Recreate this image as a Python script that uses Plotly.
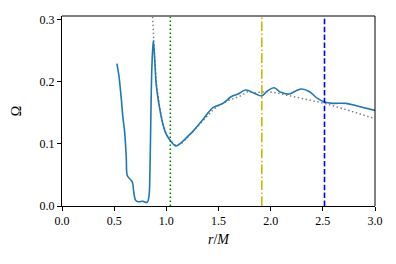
import plotly.graph_objects as go

# Simulated angular velocity profile (blue)
r_sim = [0.526, 0.545, 0.568, 0.584, 0.600, 0.616, 0.626, 0.648, 0.674, 0.686, 0.705, 0.728,
         0.776, 0.817, 0.833, 0.843, 0.852, 0.862, 0.875, 0.888, 0.904, 0.936, 0.968, 1.000,
         1.041, 1.089, 1.144, 1.224, 1.255, 1.351, 1.447, 1.543, 1.624, 1.687, 1.761, 1.857,
         1.915, 1.969, 2.033, 2.097, 2.177, 2.241, 2.298, 2.369, 2.449, 2.516, 2.593, 2.721,
         2.848, 3.000]
omega_sim = [0.229, 0.210, 0.173, 0.142, 0.120, 0.078, 0.049, 0.044, 0.0385, 0.025, 0.0095, 0.007,
             0.0075, 0.006, 0.015, 0.057, 0.147, 0.226, 0.266, 0.237, 0.194, 0.157, 0.131, 0.115,
             0.1046, 0.0967, 0.102, 0.115, 0.120, 0.139, 0.158, 0.165, 0.176, 0.180, 0.1865, 0.180,
             0.177, 0.185, 0.190, 0.1827, 0.180, 0.185, 0.188, 0.184, 0.173, 0.167, 0.165, 0.165,
             0.160, 0.1537]

# Reference profile (gray dotted)
r_ref = [0.860, 0.868, 0.875, 0.888, 0.904, 0.936, 0.968, 1.000, 1.040, 1.090, 1.150, 1.250,
         1.350, 1.450, 1.514, 1.600, 1.700, 1.779, 1.850, 1.950, 2.050, 2.150, 2.310, 2.516,
         2.720, 2.970, 3.000]
omega_ref = [0.330, 0.300, 0.270, 0.240, 0.197, 0.158, 0.131, 0.115, 0.105, 0.097, 0.101, 0.119,
             0.138, 0.155, 0.163, 0.170, 0.176, 0.1835, 0.182, 0.184, 0.182, 0.1786, 0.172, 0.165,
             0.155, 0.1426, 0.1405]

# Characteristic radii (vertical lines)
vline_r = [1.038, 1.915, 2.516]
vline_color = ["#008000", "#bfbf00", "#0000ff"]
vline_dash = ["1.5px,2.5px", "9.6px,2.4px,1.5px,2.4px", "5.5px,2.4px"]

x_ticks = [0.0, 0.5, 1.0, 1.5, 2.0, 2.5, 3.0]
y_ticks = [0.0, 0.1, 0.2, 0.3]

fig = go.Figure()
fig.add_trace(go.Scatter(x=r_ref, y=omega_ref, mode="lines",
                         line=dict(color="#808080", width=1.5, dash="1.5px,2.5px"), showlegend=False))
fig.add_trace(go.Scatter(x=r_sim, y=omega_sim, mode="lines", line_shape="spline",
                         line=dict(color="#1f77b4", width=1.6), showlegend=False))

for xv, c, d in zip(vline_r, vline_color, vline_dash):
    fig.add_shape(type="line", xref="x", yref="paper", x0=xv, x1=xv, y0=0, y1=1,
                  line=dict(color=c, width=1.6, dash=d))

# top spine (gray) and right spine
fig.add_shape(type="line", xref="paper", yref="paper", x0=0, x1=1, y0=1, y1=1,
              line=dict(color="#808080", width=1.8))
fig.add_shape(type="line", xref="paper", yref="paper", x0=1, x1=1, y0=0, y1=1,
              line=dict(color="black", width=1))

font = dict(family="'Liberation Serif', 'DejaVu Serif', 'Times New Roman', Times, serif",
            size=12, color="black")
fig.update_layout(
    width=396, height=264,
    margin=dict(l=54, r=29, t=5, b=66),
    paper_bgcolor="white", plot_bgcolor="white",
    font=font,
    xaxis=dict(range=[0, 3.0], tickvals=x_ticks, ticktext=[f"{v:.1f}" for v in x_ticks],
               tickfont=font,
               showgrid=False, zeroline=False, showline=True, linecolor="black", linewidth=1,
               ticks="outside", ticklen=4, tickcolor="black",
               title=dict(text="<i>r</i>/<i>M</i>", standoff=6, font=dict(family=font["family"], size=14))),
    yaxis=dict(range=[0, 0.3054], tickvals=y_ticks, ticktext=[f"{v:.1f}" for v in y_ticks],
               tickfont=font,
               showgrid=False, zeroline=False, showline=True, linecolor="black", linewidth=1,
               ticks="outside", ticklen=4, tickcolor="black",
               title=dict(text="Ω", standoff=14, font=dict(family=font["family"], size=14))),
)
fig.write_html("out.html")
